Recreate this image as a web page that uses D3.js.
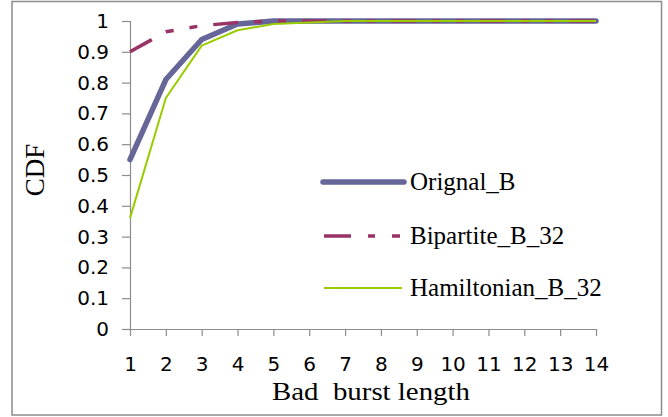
<!DOCTYPE html>
<html>
<head>
<meta charset="utf-8">
<script src="https://cdn.jsdelivr.net/npm/d3@7"></script>
<style>
  html, body { margin: 0; padding: 0; background: #fff; }
  svg { display: block; }
</style>
</head>
<body>
<svg id="chart" width="668" height="417"></svg>
<script>
const burstLengths = [1,2,3,4,5,6,7,8,9,10,11,12,13,14];
const orignalB     = [0.55,0.81,0.94,0.99,1,1,1,1,1,1,1,1,1,1];
const bipartiteB32 = [0.90,0.965,0.985,0.995,1,1,1,1,1,1,1,1,1,1];
const hamiltonianB32 = [0.36,0.75,0.92,0.97,0.99,0.995,1,1,1,1,1,1,1,1];
const yTicks = [0,0.1,0.2,0.3,0.4,0.5,0.6,0.7,0.8,0.9,1];
const seriesNames = ["Orignal_B","Bipartite_B_32","Hamiltonian_B_32"];

const svg = d3.select("#chart");

// outer border
svg.append("rect").attr("x",12).attr("y",1.5).attr("width",649.5).attr("height",413.5)
  .attr("fill","#fff").attr("stroke","#8c8c8c").attr("stroke-width",1.5);

const x = d3.scaleLinear().domain([1,14]).range([130,596]);
const y = d3.scaleLinear().domain([0,1]).range([329,21]);

const axisColor = "#8c8c8c";
const tickFont = "'DejaVu Sans', sans-serif";
const serif = "'Liberation Serif', 'Times New Roman', serif";

// Y axis
const yAxis = svg.append("g").attr("transform","translate(130,0)")
  .call(d3.axisLeft(y).tickValues(yTicks).tickSize(8).tickPadding(13)
    .tickFormat(d => d === 0 ? "0" : d === 1 ? "1" : d3.format(".1f")(d)));
yAxis.select(".domain").attr("stroke",axisColor).attr("stroke-width",1.2);
yAxis.selectAll(".tick line").attr("stroke",axisColor).attr("stroke-width",1.2);
yAxis.selectAll(".tick text").attr("font-family",tickFont).attr("font-size",20).attr("fill","#000");

// X axis
const xAxis = svg.append("g").attr("transform","translate(0,329)")
  .call(d3.axisBottom(x).tickValues(burstLengths).tickSize(7).tickSizeOuter(0).tickPadding(21)
    .tickFormat(d3.format("d")));
xAxis.select(".domain").attr("stroke",axisColor).attr("stroke-width",1.2);
xAxis.selectAll(".tick line").attr("stroke",axisColor).attr("stroke-width",1.2);
xAxis.selectAll(".tick text").attr("font-family",tickFont).attr("font-size",20).attr("fill","#000");

// Axis titles
svg.append("text").attr("x",272).attr("y",400)
  .attr("font-family",serif).attr("font-size",26)
  .attr("textLength",198).attr("lengthAdjust","spacingAndGlyphs")
  .style("white-space","pre").text("Bad  burst length");
svg.append("text").attr("transform","translate(44,170) rotate(-90)").attr("text-anchor","middle")
  .attr("font-family",serif).attr("font-size",27)
  .text("CDF");

const styles = [
  {color:"#666699", width:5.5, dash:null, cap:"round"},
  {color:"#993366", width:3.5, dash:"25,16,8,16,8,16", cap:"butt"},
  {color:"#99cc00", width:2, dash:null, cap:"butt"}
];
const allSeries = [orignalB, bipartiteB32, hamiltonianB32];

const line = d3.line().x((d,i) => x(burstLengths[i])).y(d => y(d));
allSeries.forEach((vals, k) => {
  const s = styles[k];
  svg.append("path").datum(vals).attr("d", line).attr("fill","none")
    .attr("stroke", s.color).attr("stroke-width", s.width)
    .attr("stroke-linecap", s.cap).attr("stroke-linejoin","round")
    .attr("stroke-dasharray", s.dash);
});

// Legend
const legendY = [182, 236, 288];
seriesNames.forEach((name, k) => {
  const s = styles[k];
  svg.append("line").attr("x1", k===0?323:324).attr("x2", k===0?404:402)
    .attr("y1", legendY[k]).attr("y2", legendY[k])
    .attr("stroke", s.color).attr("stroke-width", s.width).attr("stroke-linecap", s.cap)
    .attr("stroke-dasharray", k===1 ? "27,17,7,17,8" : null);
  svg.append("text").attr("x", 410).attr("y", legendY[k] + 8)
    .attr("font-family",serif).attr("font-size",25)
    .attr("fill","#000").text(name);
});
</script>
</body>
</html>
